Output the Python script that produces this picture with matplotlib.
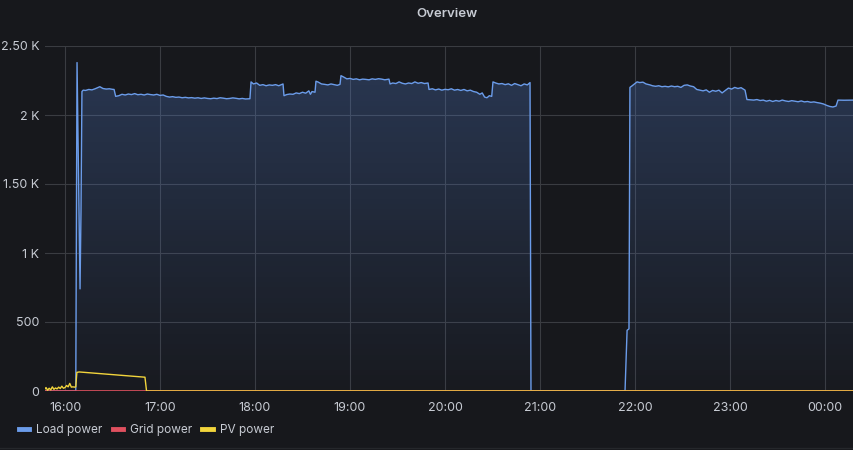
import numpy as np
import matplotlib.pyplot as plt
from matplotlib.lines import Line2D

# minutes after 16:00
load_t = [-13, -5, 6.8, 7.6, 8.4, 9.5, 10.1, 10.7,
          11.5, 13, 15, 17, 19, 21, 22, 24, 26, 28, 30, 31,
          32, 34, 36, 38, 40, 42, 44, 46, 48, 50, 52, 54, 56, 58, 60, 62,
          64, 66, 68, 70, 72, 74, 76, 78, 80, 82, 84, 86, 88, 90, 92, 94,
          96, 98, 100, 102, 104, 106, 108, 110, 112, 114, 116.8,
          117.5, 119, 121, 123, 125, 127, 129, 131, 133, 135, 137.7,
          138.3, 140, 142, 144, 146, 148, 150, 152, 154, 155, 156, 157.9,
          158.5, 160, 162, 164, 166, 168, 170, 172, 173.7,
          174.3, 176, 178, 180, 182, 184, 186, 188, 190, 192, 194, 196, 198, 200, 202, 204.6,
          205.3, 207, 209, 211, 213, 215, 217, 219, 221, 223, 225, 227, 229.3,
          229.9, 232, 234, 236, 238, 240, 242, 244, 246, 248, 250, 252, 254, 256, 258, 260,
          262, 263.5, 265, 266.5, 268, 269.5,
          270.3, 272, 274, 276, 278, 280, 282, 284, 286, 288, 290, 292, 293.7,
          294.3, 353.7, 355, 356.2, 356.8, 358, 361.3, 363, 365, 367, 369.5, 371, 373, 375,
          377, 379, 381, 383, 385, 387, 389, 391, 393, 395, 397, 399, 401, 403, 405, 407,
          409, 411, 413, 415, 417, 419, 421, 423, 425, 427, 429.5,
          430.7, 433, 435, 437, 439, 441, 443, 445, 447, 449, 451, 453, 455, 457, 459, 461,
          463, 465, 467, 469, 471, 473, 475, 477, 479, 481, 483, 485, 487, 488.2, 492, 496, 499]
load_v = [0, 0, 0, 2380, 1700, 740, 1300, 2170,
          2180, 2178, 2185, 2182, 2190, 2200, 2205, 2192, 2188, 2190, 2186, 2185,
          2135, 2140, 2150, 2145, 2152, 2148, 2155, 2147, 2150, 2145, 2152, 2148, 2145, 2150, 2142, 2145,
          2135, 2130, 2133, 2128, 2130, 2125, 2128, 2124, 2126, 2122, 2125, 2120, 2124, 2120, 2118, 2122,
          2119, 2125, 2122, 2118, 2120, 2124, 2121, 2117, 2120, 2116, 2118,
          2240, 2225, 2232, 2215, 2220, 2212, 2218, 2215, 2220, 2212, 2225,
          2140, 2148, 2152, 2150, 2160, 2155, 2165, 2158, 2175, 2150, 2170, 2165,
          2245, 2238, 2225, 2222, 2218, 2225, 2220, 2215, 2222,
          2285, 2275, 2262, 2265, 2258, 2262, 2255, 2260, 2258, 2255, 2262, 2258, 2263, 2260, 2255, 2260,
          2225, 2232, 2228, 2240, 2230, 2225, 2232, 2228, 2240, 2230, 2235, 2228, 2232,
          2185, 2190, 2182, 2188, 2180, 2186, 2183, 2190, 2180, 2185, 2178, 2185, 2175, 2180, 2170, 2165,
          2150, 2160, 2130, 2125, 2140, 2135,
          2240, 2232, 2225, 2228, 2220, 2226, 2215, 2228, 2220, 2212, 2225, 2218, 2235,
          0, 0, 440, 450, 2200, 2210, 2240, 2235, 2238, 2225, 2218, 2212, 2208, 2212,
          2205, 2208, 2204, 2210, 2205, 2208, 2200, 2215, 2218, 2210, 2205, 2185, 2180, 2175, 2182, 2165,
          2178, 2172, 2180, 2160, 2178, 2195, 2188, 2200, 2192, 2198, 2180,
          2112, 2110, 2108, 2112, 2105, 2108, 2100, 2106, 2098, 2105, 2100, 2108, 2102, 2098, 2104, 2100,
          2096, 2102, 2095, 2098, 2092, 2095, 2090, 2086, 2080, 2070, 2062, 2058, 2065, 2108, 2107, 2108, 2108]

grid_t = [-13, 499]
grid_v = [0, 0]

pv_t = [-13, -12, -11, -10, -9, -8, -7, -6, -5, -4, -3, -2, -1, 0, 1, 2, 3, 4, 5, 6, 6.8,
        7.5, 9, 50.5, 51.5, 499]
pv_v = [10, 25, 5, 20, 8, 30, 12, 22, 15, 28, 18, 35, 20, 25, 40, 30, 55, 28, 30, 28, 30,
        135, 138, 100, 0, 0]

tick_pos = [0, 60, 120, 180, 240, 300, 360, 420, 480]
tick_labels = ['16:00', '17:00', '18:00', '19:00', '20:00', '21:00', '22:00', '23:00', '00:00']
ytick_pos = [0, 500, 1000, 1500, 2000, 2500]
ytick_labels = ['0', '500', '1 K', '1.50 K', '2 K', '2.50 K']

bg = '#17181c'
text_c = '#c7cbd3'
blue = '#6b9cea'
red = '#e0505f'
yellow = '#f2d53c'

plt.rcParams['font.family'] = ['Inter', 'DejaVu Sans']

fig = plt.figure(figsize=(8.54, 4.5), dpi=100, facecolor=bg)
ax = fig.add_axes([45 / 854, 59 / 450, 809 / 854, 345 / 450], facecolor=bg)

xmin = (45 - 65) * 60 / 95
xmax = (854 - 65) * 60 / 95
ax.set_xlim(xmin, xmax)
ax.set_ylim(0, 2500)

# gradient fill under load
poly = ax.fill_between(load_t, load_v, 0, color='none', lw=0)
grad = np.linspace(0.0, 1.0, 256).reshape(-1, 1)
cmap_img = np.zeros((256, 1, 4))
cmap_img[..., 0] = 0.36
cmap_img[..., 1] = 0.55
cmap_img[..., 2] = 0.90
cmap_img[..., 3] = 0.02 + 0.26 * grad[:, :]
im = ax.imshow(cmap_img, extent=[xmin, xmax, 0, 2500], origin='lower',
               aspect='auto', zorder=1, interpolation='bilinear')
path = poly.get_paths()[0]
im.set_clip_path(path, transform=ax.transData)

ax.plot(load_t, load_v, color=blue, lw=1.0, zorder=3)
ax.plot(grid_t, grid_v, color=red, lw=1.2, zorder=4)
ax.plot(pv_t, pv_v, color=yellow, lw=1.0, zorder=5)

ax.set_xticks(tick_pos)
ax.set_xticklabels(tick_labels)
ax.set_yticks(ytick_pos)
ax.set_yticklabels(ytick_labels)
ax.tick_params(colors=text_c, labelsize=9, length=0)
ax.tick_params(axis='x', pad=8)
ax.tick_params(axis='y', pad=4)
ax.grid(True, color='#3a3c41', lw=0.8)
ax.set_axisbelow(True)
for s in ax.spines.values():
    s.set_visible(False)

fig.text(447 / 854, 1 - 14 / 450, 'Overview', color=text_c, fontsize=9.5,
         fontweight='semibold', ha='center', va='center')

handles = [Line2D([], [], color=blue, lw=3.5),
           Line2D([], [], color=red, lw=3.5),
           Line2D([], [], color=yellow, lw=3.5)]
leg = fig.legend(handles, ['Load power', 'Grid power', 'PV power'], loc='center left',
                 bbox_to_anchor=(8 / 854, 1 - 430 / 450), ncol=3, frameon=False,
                 handlelength=0.9, handletextpad=0.55, columnspacing=0.9, fontsize=8.5)
for t in leg.get_texts():
    t.set_color(text_c)

fig.add_artist(Line2D([0, 1], [2.5 / 450, 2.5 / 450], color='#25272b', lw=1))

fig.savefig('out.png', dpi=100, facecolor=bg)
